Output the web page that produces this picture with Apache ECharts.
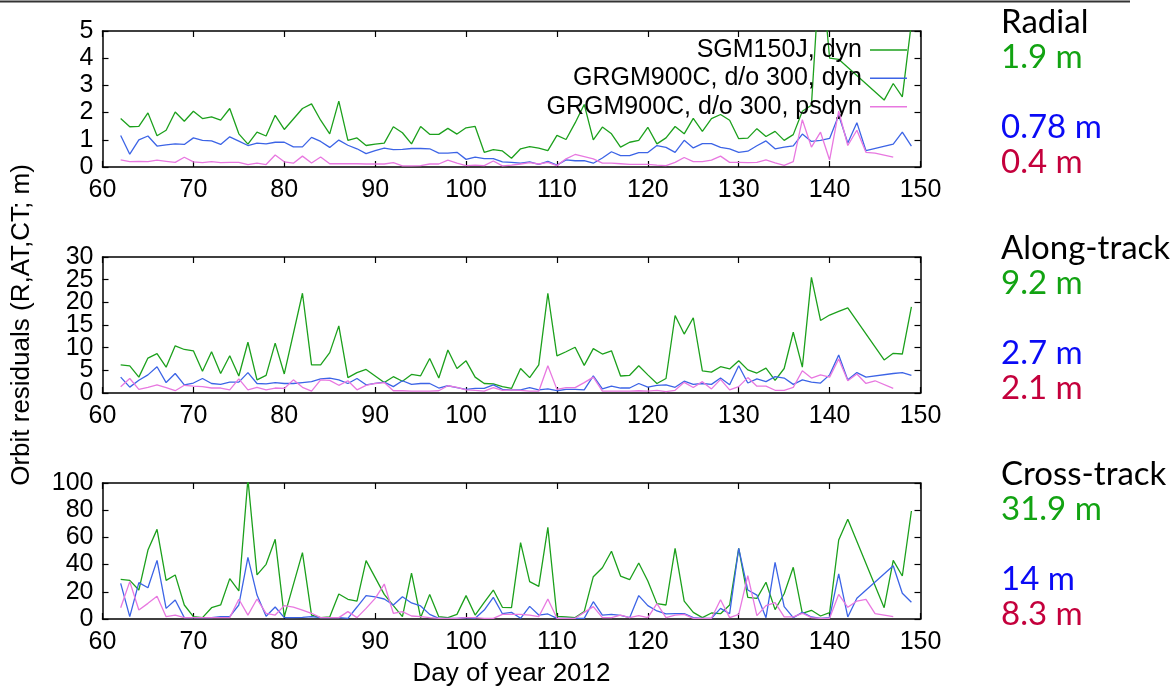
<!DOCTYPE html>
<html>
<head>
<meta charset="utf-8">
<script src="https://cdn.jsdelivr.net/npm/echarts@6/dist/echarts.min.js"></script>
<style>
  html, body { margin: 0; padding: 0; background: #fff; }
  #orbit-residuals { width: 1174px; height: 690px; }
</style>
</head>
<body>
<div id="orbit-residuals"></div>
<script>
// day of year 2012, one entry per column below; null = no arc that day
const days = [62, 63, 64, 65, 66, 67, 68, 69, 70, 71, 72, 73, 74, 75, 76, 77, 78, 79, 80, 81,
  82, 83, 84, 85, 86, 87, 88, 89, 90, 91, 92, 93, 94, 95, 96, 97, 98, 99, 100, 101,
  102, 103, 104, 105, 106, 107, 108, 109, 110, 111, 112, 113, 114, 115, 116, 117, 118, 119, 120, 121,
  122, 123, 124, 125, 126, 127, 128, 129, 130, 131, 132, 133, 134, 135, 136, 137, 138, 139, 140, 141,
  142, 143, 144, 145, 146, 147, 148, 149]

// radial (m)
const radialSgm = [1.78, 1.48, 1.49, 1.99, 1.15, 1.35, 2.02, 1.68, 2.05, 1.78, 1.84, 1.72, 2.15, 1.22, 0.84, 1.28, 1.14, 1.90, 1.38, null,
  2.15, 2.32, 1.72, 1.22, 2.42, 0.98, 1.07, 0.79, 0.84, 0.88, 1.48, 1.26, 0.85, 1.49, 1.20, 1.20, 1.42, 1.21, 1.44, 1.49,
  0.54, 0.64, 0.59, 0.32, 0.67, 0.75, 0.69, 0.60, 1.16, 1.01, 1.62, 2.30, 1.00, 1.47, 1.22, 0.73, 0.91, 0.98, 1.46, 0.85,
  1.07, 1.49, 1.22, 1.79, 1.31, 1.78, 1.93, 1.72, 1.04, 1.06, 1.41, 1.12, 1.31, 0.98, 1.19, 2.05, 2.27, 7.7, 4.0, 3.96,
  null, null, null, null, 2.46, 3.07, 2.58, 5.3]
const radialGrgm = [1.16, 0.47, 1.00, 1.14, 0.77, 0.81, 0.85, 0.83, 1.07, 0.98, 0.96, 0.83, 1.11, 0.95, 0.79, 0.88, 0.85, 0.91, 0.91, 0.74,
  0.74, 1.09, 0.94, 0.72, 0.99, 0.80, 0.67, 0.49, 0.60, 0.69, 0.64, 0.65, 0.68, 0.68, 0.67, 0.51, 0.51, 0.54, 0.28, 0.36,
  0.31, 0.31, 0.19, 0.17, 0.14, 0.19, 0.10, 0.21, 0.07, 0.26, 0.23, 0.23, 0.14, 0.33, 0.56, 0.42, 0.42, 0.53, 0.53, 0.79,
  0.72, 0.54, 0.98, 0.70, 0.86, 0.86, 0.72, 0.67, 0.54, 0.58, 0.78, 0.96, 0.67, 0.73, 0.78, 1.21, 0.94, 0.98, 1.05, 1.90,
  0.88, 1.63, 0.60, null, null, 0.84, 1.28, 0.77]
const radialPs = [0.26, 0.20, 0.21, 0.20, 0.25, 0.21, 0.17, 0.36, 0.19, 0.16, 0.20, 0.16, 0.17, 0.17, 0.09, 0.14, 0.09, 0.44, 0.19, 0.14,
  0.40, 0.15, 0.37, 0.12, 0.12, 0.12, 0.12, 0.11, 0.11, 0.11, 0.16, 0.04, 0.04, 0.05, 0.11, 0.11, 0.25, 0.14, 0.05, 0.07,
  0.05, 0.22, 0.04, 0.07, 0.11, 0.16, 0.11, 0.17, 0.05, 0.30, 0.46, 0.38, 0.30, 0.14, 0.14, 0.12, 0.10, 0.10, 0.10, 0.07,
  0.05, 0.17, 0.35, 0.20, 0.20, 0.25, 0.40, 0.17, 0.17, 0.16, 0.17, 0.26, 0.15, 0.06, 0.20, 1.74, 0.73, 1.28, 0.26, 2.05,
  0.79, 1.35, 0.54, 0.51, 0.44, 0.36, null, null]

// along-track (m)
const alongSgm = [6.2, 6.0, 3.5, 7.7, 8.7, 5.7, 10.4, 9.6, 9.3, 4.8, 9.1, 4.3, 8.2, 3.75, 11.2, 2.9, 3.9, 11.0, 4.2, null,
  22.0, 6.2, 6.2, 8.9, 14.8, 3.4, 4.5, 5.2, null, 2.3, 3.6, 2.6, 4.1, 3.8, 7.6, 3.3, 9.5, 5.4, 7.1, 3.5,
  2.1, 2.0, 1.4, 1.0, 5.4, 3.4, 6.2, 22.0, 8.2, 9.1, 10.1, 6.1, 9.8, 8.6, 9.3, 3.75, 3.9, 6.0, 4.0, 2.1,
  3.2, 17.1, 13.0, 16.6, 4.9, 4.6, 5.8, 5.3, 7.1, 5.1, 4.4, 5.5, 2.8, 5.4, 13.4, 5.7, 25.5, 16.0, 17.2, 18.0,
  18.8, null, null, null, 7.3, 8.75, 8.6, 19.0]
const alongGrgm = [3.5, 1.3, 2.8, 4.0, 5.8, 2.3, 4.3, 1.8, 2.2, 3.2, 2.1, 1.9, 2.4, 2.4, 4.5, 2.1, 2.0, 2.3, 2.1, 2.1,
  2.3, 2.5, 3.1, 3.3, 2.9, 2.1, 3.2, 1.8, 2.1, 2.4, 1.4, 2.7, 1.9, 2.1, 2.1, 1.1, 1.6, 1.2, 0.8, 1.0,
  1.0, 1.8, 0.8, 0.7, 0.7, 1.2, 0.7, 0.9, 0.5, 0.8, 0.8, 0.7, 3.8, 0.9, 1.5, 1.1, 1.1, 2.1, 1.3, 1.7,
  1.8, 1.25, 2.6, 1.9, 2.1, 1.9, 3.3, 1.8, 6.0, 2.2, 3.1, 2.5, 3.6, 3.3, 1.9, 2.9, 2.4, 2.2, 4.0, 8.4,
  2.9, 4.5, 3.5, null, null, 4.3, 4.5, 3.9]
const alongPs = [1.4, 3.2, 0.8, 1.25, 1.8, 1.2, 0.5, 1.7, 1.5, 1.4, 1.1, 1.1, 0.7, 3.1, 0.7, 1.25, 0.7, 1.1, 1.0, 2.9,
  1.25, 0.4, 2.9, 2.8, 1.7, 2.7, 0.7, 1.7, 2.1, 2.3, 0.5, 0.5, 0.4, 0.4, 0.4, 0.5, 1.6, 1.25, 0.7, 0.6,
  0.4, 1.2, 0.6, 0.7, 0.6, 0.4, 0.4, 6.0, 0.8, 1.2, 1.2, 2.3, 3.5, 0.4, 0.4, 0.4, 0.4, 0.5, 0.4, 0.6,
  0.3, 0.6, 2.35, 1.2, 2.5, 0.9, 3.0, 0.7, 1.4, 3.4, 1.5, 1.5, 0.6, 0.6, 1.25, 4.9, 3.3, 4.0, 3.5, 7.5,
  2.7, 4.2, 2.1, 2.7, null, 1.0, null, null]

// cross-track (m)
const crossSgm = [29.2, 28.4, 21.3, 50.7, 65.9, 28.4, 32.4, 10.3, 1.7, 1.0, 8.3, 10.3, 29.7, 20.6, 103, 32.4, 40.2, 58.6, 1.7, null,
  48.8, 2.9, 1.0, 1.5, 18.4, 14.5, 13.2, 42.9, null, 18.1, 9.8, 1.7, 33.8, 1.0, 18.1, 1.7, 1.0, 3.4, 17.2, 2.9,
  12.3, 21.3, 8.6, 8.3, 56.1, 27.5, 24.0, 67.4, 2.0, 1.5, 1.0, 5.4, 31.1, 37.7, 49.8, 31.6, 28.9, 41.2, 27.9, 11.3,
  10.3, 52.0, 13.2, 4.9, 1.0, 4.4, 3.9, 10.3, 52.0, 15.9, 15.2, 27.0, 6.9, 18.6, 38.0, 4.2, 6.4, 2.2, 4.7, 58.1,
  73.3, null, null, null, 8.3, 43.1, 31.6, 79.4]
const crossGrgm = [26.2, 1.7, 26.7, 23.0, 43.1, 7.8, 14.0, 1.0, 1.0, 1.0, 1.0, 1.7, 1.7, 10.3, 45.3, 17.6, 2.0, 8.8, 1.0, 1.0,
  1.2, 1.7, 1.0, 1.0, 1.0, 0.5, 8.8, 17.2, 16.2, 14.7, 10.3, 16.4, 11.8, 9.6, 3.4, 0.5, 0.5, 0.5, 1.0, 0.5,
  6.6, 15.9, 3.9, 4.9, 0.5, 9.3, 2.9, 3.7, 0.5, 0.5, 0.5, 0.5, 12.7, 2.9, 3.4, 2.7, 1.0, 17.2, 9.8, 5.9,
  3.7, 3.9, 3.9, 1.0, 0.5, 0.5, 7.8, 3.9, 52.0, 21.3, 17.6, 1.0, 41.7, 9.1, 1.0, 4.9, 1.5, 0.5, 1.0, 33.1,
  1.5, 15.2, null, null, null, 39.2, 18.9, 12.3]
const crossPs = [8.3, 27.5, 6.6, 11.5, 16.7, 1.7, 2.9, 1.0, 1.0, 1.0, 1.0, 1.0, 1.0, 14.5, 2.9, 14.7, 4.2, 2.9, 9.8, 8.8,
  6.6, 4.2, 1.0, 1.0, 1.0, 5.4, 1.0, 7.8, 15.2, 25.7, 4.2, 5.4, 2.2, 1.7, 1.0, 0.5, 0.5, 0.5, 1.0, 1.0,
  0.5, 0.5, 3.4, 3.4, 3.4, 2.9, 1.7, 14.7, 0.5, 0.5, 0.5, 4.9, 9.1, 1.0, 1.0, 2.9, 1.0, 2.5, 1.0, 11.3,
  1.0, 2.9, 3.4, 0.5, 0.5, 0.5, 14.2, 1.0, 3.4, 31.9, 2.5, 9.8, 12.0, 1.5, 1.5, 4.2, 1.0, 0.5, 0.5, 18.1,
  8.6, 13.2, 14.5, 3.9, null, 1.7, null, null]

const seriesNames = ['SGM150J, dyn', 'GRGM900C, d/o 300, dyn', 'GRGM900C, d/o 300, psdyn']
const yMax = [5, 30, 100]
const yStep = [1, 5, 20]
const rmsText = [
  ['Radial', '1.9 m', '0.78 m', '0.4 m'],
  ['Along-track', '9.2 m', '2.7 m', '2.1 m'],
  ['Cross-track', '31.9 m', '14 m', '8.3 m'],
]

const panels = [
  [radialSgm, radialGrgm, radialPs],
  [alongSgm, alongGrgm, alongPs],
  [crossSgm, crossGrgm, crossPs],
]
const lineColors = ['#1ca01c', '#3c64e6', '#e878e0']
const rmsColors = ['#000000', '#12a312', '#0a0af5', '#c4003c']
const gridTop = [31, 257, 483]
const GRID_H = 136
const FONT = 'Liberation Sans, Arial, sans-serif'

function toPairs(vals) {
  return days.map((d, i) => [d, vals[i]]).filter((p) => p[1] !== null)
}

const axisLine = { show: true, onZero: false, lineStyle: { color: '#000', width: 1.5 } }
const axisTick = { inside: true, length: 6, lineStyle: { color: '#000', width: 1.2 } }
const yLabel = { color: '#000', fontSize: 25, fontFamily: FONT, margin: 9, showMinLabel: true, showMaxLabel: true }

const grid = []
const xAxis = []
const yAxis = []
const series = []
const graphic = [
  { type: 'line', shape: { x1: 0, y1: 1.5, x2: 1130, y2: 1.5 }, style: { stroke: '#333', lineWidth: 2 } },
]

gridTop.forEach((top, i) => {
  grid.push({ left: 102.5, width: 818, top: top, height: GRID_H, outerBoundsMode: 'none' })
  xAxis.push({
    gridIndex: i, type: 'value', min: 60, max: 150, interval: 10, position: 'bottom',
    axisLine, axisTick, splitLine: { show: false },
    axisLabel: { color: '#000', fontSize: 25, fontFamily: FONT, margin: 11, showMinLabel: true, showMaxLabel: true },
    name: i === 2 ? 'Day of year 2012' : '',
    nameLocation: 'middle', nameGap: 42,
    nameTextStyle: { color: '#000', fontSize: 26, fontFamily: FONT },
  })
  xAxis.push({
    gridIndex: i, type: 'value', min: 60, max: 150, interval: 10, position: 'top',
    axisLine, axisTick, splitLine: { show: false }, axisLabel: { show: false },
  })
  yAxis.push({
    gridIndex: i, type: 'value', min: 0, max: yMax[i], interval: yStep[i], position: 'left',
    axisLine, axisTick, splitLine: { show: false },
    // the densely packed along-track labels are drawn by two helper axes further down
    axisLabel: i === 1 ? { show: false } : yLabel,
    name: i === 1 ? 'Orbit residuals (R,AT,CT; m)' : '',
    nameLocation: 'middle', nameGap: 68,
    nameTextStyle: { color: '#000', fontSize: 26, fontFamily: FONT },
  })
  yAxis.push({
    gridIndex: i, type: 'value', min: 0, max: yMax[i], interval: yStep[i], position: 'right',
    axisLine, axisTick, splitLine: { show: false }, axisLabel: { show: false },
  })
  panels[i].forEach((vals, j) => {
    series.push({
      type: 'line',
      name: seriesNames[j],
      xAxisIndex: 2 * i,
      yAxisIndex: 2 * i,
      data: toPairs(vals),
      symbol: 'none',
      clip: true,
      z: 2 + j,
      lineStyle: { color: lineColors[j], width: 1.3 },
      itemStyle: { color: lineColors[j] },
    })
  })
  // rms summary on the right
  const base = top + 3
  const offsets = [0, 35, 105, 140]
  rmsText[i].forEach((t, k) => {
    graphic.push({
      type: 'text',
      x: 1001,
      y: base + offsets[k] - 12,
      style: { text: t, fill: rmsColors[k], fontSize: 33, fontFamily: 'Lato, sans-serif', verticalAlign: 'middle' },
    })
  })
})

// along-track tick labels: 0/10/20/30 on a copy of the panel, 5/15/25 on a copy shrunk by one step each side
const step2 = GRID_H / 6
const labelGrids = [
  { top: gridTop[1], height: GRID_H, min: 0, max: 30 },
  { top: gridTop[1] + step2, height: GRID_H - 2 * step2, min: 5, max: 25 },
]
labelGrids.forEach((g) => {
  const gi = grid.length
  grid.push({ left: 102.5, width: 818, top: g.top, height: g.height, outerBoundsMode: 'none' })
  xAxis.push({ gridIndex: gi, type: 'value', min: 60, max: 150, show: false })
  yAxis.push({
    gridIndex: gi, type: 'value', min: g.min, max: g.max, interval: 10, position: 'left',
    axisLine: { show: false }, axisTick: { show: false }, splitLine: { show: false },
    axisLabel: yLabel,
  })
})

const legendCenters = [50, 78.3, 106.7]
const legend = seriesNames.map((n, j) => ({
  data: [n],
  right: 267,
  top: legendCenters[j] - 13,
  align: 'right',
  padding: 0,
  icon: 'rect',
  itemWidth: 37,
  itemHeight: 1.5,
  selectedMode: false,
  textStyle: { color: '#000', fontSize: 25, fontFamily: FONT, lineHeight: 26, padding: [0, 3, 0, 0] },
}))

const chart = echarts.init(document.getElementById('orbit-residuals'), null, { renderer: 'canvas' })
chart.setOption({
  animation: false,
  backgroundColor: '#fff',
  grid,
  xAxis,
  yAxis,
  legend,
  series,
  graphic,
})
</script>
</body>
</html>
